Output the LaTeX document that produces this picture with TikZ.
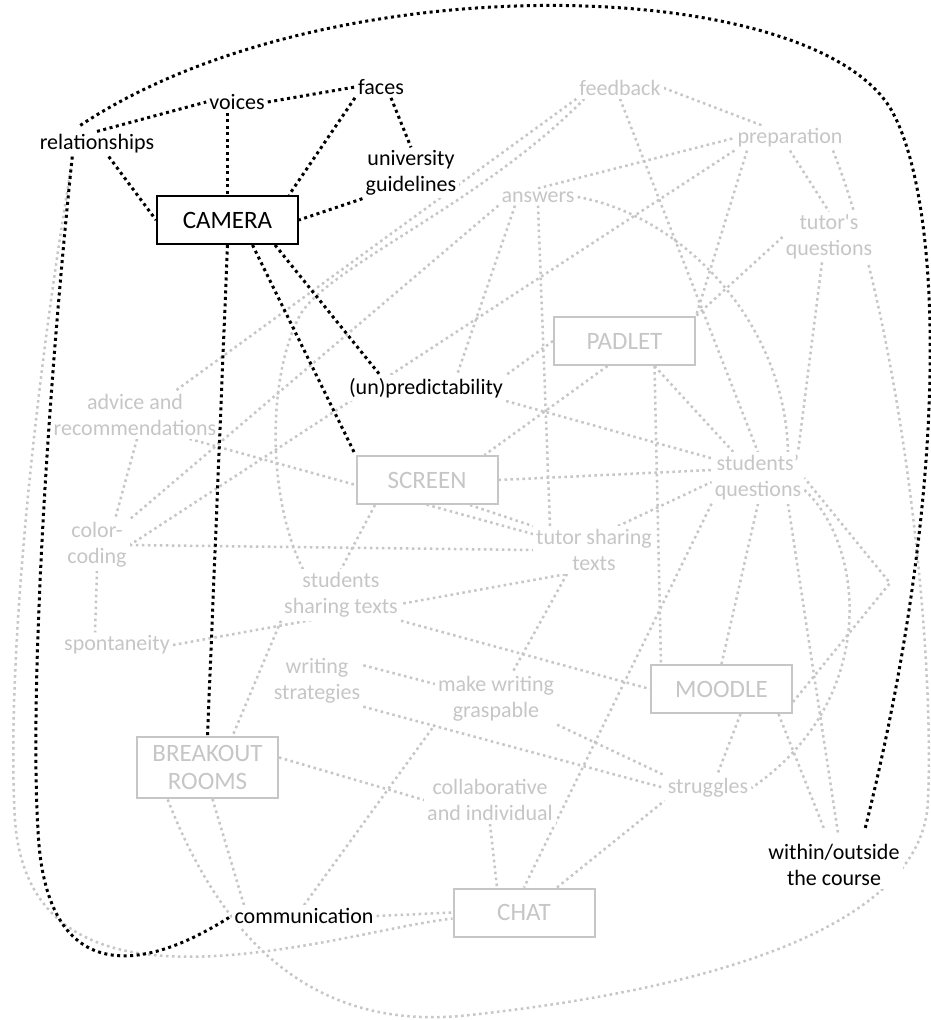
\documentclass[tikz,border=0pt]{standalone}
\usepackage{fontspec}
\setmainfont{Carlito}
\definecolor{gc}{RGB}{198,198,198}
\pgfdeclarelayer{bg}
\pgfdeclarelayer{fg}
\pgfsetlayers{bg,main,fg}
\newcommand{\straightapos}{{\XeTeXglyph\XeTeXcharglyph"0027\relax}}
\begin{document}
\begin{tikzpicture}[x=1pt,y=-1pt,
  btxt/.style={font=\fontsize{22}{26}\selectfont, align=center, inner sep=3pt, fill=white, text=black},
  gtxt/.style={font=\fontsize{22}{26}\selectfont, align=center, inner sep=3pt, fill=white, text=gc},
  bbox/.style={draw=black, line width=2pt, fill=white, font=\fontsize{25}{28}\selectfont, minimum width=141pt, minimum height=48pt, align=center, inner sep=2pt},
  gbox/.style={draw=gc, line width=2pt, fill=white, text=gc, font=\fontsize{25}{28}\selectfont, minimum width=141pt, minimum height=48pt, align=center, inner sep=2pt},
  bl/.style={draw=black, line width=3pt, dash pattern=on 3pt off 3.5pt},
  gl/.style={draw=gc, line width=2.5pt, dash pattern=on 2.5pt off 3.5pt}]
\useasboundingbox (0,0) rectangle (931,1020);

% black nodes
\node[btxt] (faces) at (381,87) {faces};
\node[btxt] (voices) at (237,102) {voices};
\node[btxt] (rel) at (97,144) {relationships};
\node[btxt] (univ) at (411,173) {university\\guidelines};
\node[bbox] (cam) at (227.5,220) {CAMERA};
\node[btxt] (unpred) at (426,388) {(un)predictability};
\node[btxt] (comm) at (304,916) {communication};
\node[btxt] (within) at (834,865) {within/outside\\the course};

% gray nodes
\node[gtxt] (fb) at (620,88) {feedback};
\node[gtxt] (prep) at (790,138) {preparation};
\node[gtxt] (ans) at (538,197) {answers};
\node[gtxt] (tq) at (829,237) {tutor\straightapos s\\questions};
\node[gbox] (pad) at (624.5,341) {PADLET};
\node[gtxt] (adv) at (135,415) {advice and\\recommendations};
\node[gbox] (scr) at (427,480) {SCREEN};
\node[gtxt] (sq) at (758,478) {students’\\questions};
\node[gtxt] (cc) at (97,545) {color-\\coding};
\node[gtxt] (ts) at (594,550) {tutor sharing\\texts};
\node[gtxt] (sst) at (341,595) {students\\sharing texts};
\node[gtxt] (spont) at (117,645) {spontaneity};
\node[gtxt] (ws) at (317,681) {writing\\strategies};
\node[gtxt] (mwg) at (496,699) {make writing\\graspable};
\node[gbox] (moo) at (721.5,689) {MOODLE};
\node[gbox, minimum height=61pt] (bo) at (207.5,767.5) {BREAKOUT\\ROOMS};
\node[gtxt] (col) at (490,800) {collaborative\\and individual};
\node[gtxt] (str) at (708,788) {struggles};
\node[gbox] (chat) at (524,912.5) {CHAT};
\coordinate (elb) at (890,583);

\begin{pgfonlayer}{bg}
\fill[white] (0,0) rectangle (931,1020);
\draw[gl] (fb.south west) -- ([xshift=40pt]adv.north);
\draw[gl] ([xshift=-38pt]sst.north) .. controls (268,500) and (266,380) .. (300,315) .. controls (330,265) and (480,205) .. ([xshift=8pt]fb.south west);
\draw[gl] (ans.south west) -- (cc.north east);
\draw[gl] (prep.south west) -- (cc.east);
\draw[gl] (fb.east) -- ([xshift=-28pt]prep.north);
\draw[gl] (fb.south) -- (sq.north);
\draw[gl] (ans.north) -- (prep.west);
\draw[gl] (ans.east) .. controls (680,215) and (785,320) .. ([xshift=30pt]sq.north);
\draw[gl] ([xshift=-23pt]ans.south) -- ([xshift=31pt]unpred.north);
\draw[gl] (ans.south) -- ([xshift=-44pt]ts.north);
\draw[gl] ([xshift=-43pt]prep.south) -- (pad.north east);
\draw[gl] (prep.south) -- (tq.north);
\draw[gl] ([xshift=43pt]prep.south) .. controls (900,320) and (935,640) .. (928,800) .. controls (924,930) and (700,990) .. (470,1015) .. controls (330,1031) and (230,960) .. ([xshift=-40pt]bo.south);
\draw[gl] (tq.west) -- (pad.north east);
\draw[gl] ([xshift=-7pt]tq.south) -- ([xshift=40pt]sq.north);
\draw[gl] (pad.west) -- (unpred.north east);
\draw[gl] ([xshift=-17pt]pad.south) -- ([xshift=-14pt]scr.north east);
\draw[gl] ([xshift=30pt]pad.south) -- ([xshift=11pt]moo.north west);
\draw[gl] ([xshift=30pt]pad.south) -- ([xshift=22pt]sq.north west);
\draw[gl] (unpred.south east) -- ([yshift=-6pt]sq.north west);
\draw[gl] (scr.east) -- ([yshift=8pt]sq.west);
\draw[gl] ([xshift=24pt]ts.north) -- ([yshift=-4pt]sq.west);
\draw[gl] ([xshift=-30pt]adv.south east) -- ([yshift=-8pt]ts.north west);
\draw[gl] ([xshift=43pt]scr.south) -- (ts.north west);
\draw[gl] ([xshift=-52pt]scr.south) -- (sst.north);
\draw[gl] (cc.east) -- (ts.west);
\draw[gl] ([xshift=2pt]adv.south) -- ([xshift=18pt]cc.north);
\draw[gl] (cc.south) -- ([xshift=-22pt]spont.north);
\draw[gl] (spont.east) -- ([xshift=-27pt]ts.south);
\draw[gl] (sst.south east) -- (moo.west);
\draw[gl] (sst.south west) -- ([xshift=25pt]bo.north);
\draw[gl] ([xshift=-27pt]ts.south) -- ([xshift=16pt]mwg.north);
\draw[gl] ([yshift=-10pt]ws.north east) -- ([yshift=15pt]mwg.west);
\draw[gl] (ws.south east) -- (str.west);
\draw[gl] (mwg.south east) -- (str.north west);
\draw[gl] (comm.north) -- (mwg.south west);
\draw[gl] ([yshift=10pt]bo.east) -- (col.west);
\draw[gl] ([xshift=5pt]bo.south) -- ([xshift=-60pt]comm.north);
\draw[gl] (col.south) -- ([xshift=-27pt]chat.north);
\draw[gl] (sq.south west) -- (chat.north);
\draw[gl] ([xshift=33pt]chat.north) -- (str.south west);
\draw[gl] ([xshift=19pt]moo.south) -- ([xshift=9pt]str.north);
\draw[gl] ([xshift=57pt]moo.south) -- ([xshift=-9pt,yshift=10pt]within.north);
\draw[gl] ([xshift=30pt]sq.south) -- ([xshift=4pt,yshift=8pt]within.north);
\draw[gl] (sq.south) -- (moo.north);
\draw[gl] ([yshift=-12pt]sq.east) .. controls (865,545) and (880,700) .. (str.east);
\draw[gl] ([yshift=-13pt]moo.east) -- (elb) -- (sq.east);
\draw[gl] (comm.east) -- (chat.west);
\draw[gl] ([xshift=-24pt]rel.south) .. controls (40,350) and (5,650) .. (15,820) .. controls (25,960) and (150,965) .. (260,952) .. controls (340,942) and (400,925) .. ([yshift=-6pt]chat.west);
\end{pgfonlayer}

\begin{pgfonlayer}{fg}
\draw[bl] (rel.-47) -- (cam.west);
\draw[bl] (rel.north) -- (voices.west);
\draw[bl] (voices.east) -- (faces.west);
\draw[bl] (cam.north |- voices.south) -- (cam.north);
\draw[bl] (faces.south west) -- ([xshift=-10pt]cam.north east);
\draw[bl] ([xshift=10pt]faces.south) -- (univ.north);
\draw[bl] (univ.south west) -- (cam.east);
\draw[bl] (cam.south) -- (bo.north);
\draw[bl] ([xshift=25pt]cam.south) -- (scr.north west);
\draw[bl] ([xshift=-24pt]cam.south east) -- ([xshift=-46pt]unpred.north);
\draw[bl] ([yshift=6pt]rel.143) .. controls (330,-40) and (820,-25) .. (893,113) .. controls (942,205) and (952,480) .. ([xshift=31pt,yshift=12pt]within.north);
\draw[bl] (rel.-153) .. controls (45,420) and (30,700) .. (38,830) .. controls (45,985) and (140,975) .. (comm.west);
\end{pgfonlayer}
\end{tikzpicture}
\end{document}
